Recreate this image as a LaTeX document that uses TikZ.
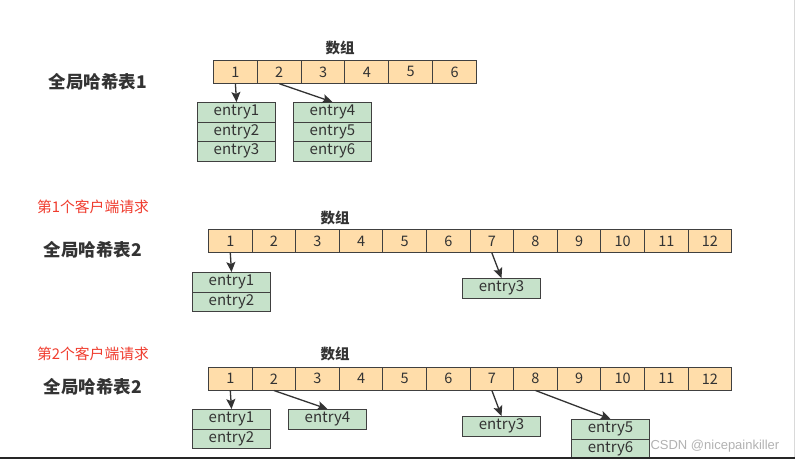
\documentclass[tikz,border=0pt]{standalone}
\usepackage{fontspec}
\setmainfont{Noto Sans CJK SC}
\newfontfamily\cjk{Noto Sans CJK SC}
\newfontfamily\wm{Liberation Sans}
\usetikzlibrary{arrows.meta}
\definecolor{cellfill}{HTML}{FFDDAA}
\definecolor{entfill}{HTML}{C6E2CA}
\definecolor{edge}{HTML}{404040}
\definecolor{reqred}{HTML}{F03C2E}
\tikzset{
  cell/.style={draw=edge, line width=1pt, fill=cellfill, inner sep=0pt, anchor=north west, font=\fontsize{14.5}{14.5}\selectfont, text=black!80},
  ent/.style={draw=edge, line width=1pt, fill=entfill, inner sep=0pt, anchor=north west, minimum width=78pt, minimum height=19.5pt, font=\fontsize{15}{15}\selectfont, text=black!80},
  ptr/.style={draw=black!80, line width=1.3pt, -{Stealth[length=10pt,width=9pt,inset=2pt]}},
  title/.style={font=\fontsize{17.5}{17.5}\selectfont\bfseries, text=black!80},
  req/.style={font=\fontsize{14.8}{14.8}\selectfont, text=reqred},
  arr/.style={font=\fontsize{14.5}{14.5}\selectfont\bfseries, text=black!80}
}
\begin{document}
\begin{tikzpicture}[x=1pt,y=-1pt]
\useasboundingbox (0,0) rectangle (795,459);
\fill[white] (0,0) rectangle (795,459);
% ---------- block 1 ----------
\node[title] (t1) at (98,82) {全局哈希表1};
\node[arr] (a1) at (340,48) {数组};
\foreach \i in {1,...,6}{
  \node[cell, minimum width=43.83pt, minimum height=22.7pt] (ra\i) at ({213+(\i-1)*43.83},60) {\i};
}
\node[ent] (ea1) at (197,102) {entry1};
\node[ent] (ea2) at (197,121.5) {entry2};
\node[ent] (ea3) at (197,141) {entry3};
\node[ent] (eb4) at (293,102) {entry4};
\node[ent] (eb5) at (293,121.5) {entry5};
\node[ent] (eb6) at (293,141) {entry6};
\draw[ptr] (ra1.south) -- (ea1.north);
\draw[ptr] (ra2.south) -- (eb4.north);
% ---------- block 2 ----------
\node[req] (q1) at (93,207) {第1个客户端请求};
\node[title] (t2) at (93,250) {全局哈希表2};
\node[arr] (a2) at (335,218) {数组};
\foreach \i in {1,...,12}{
  \node[cell, minimum width=43.6pt, minimum height=23pt] (rb\i) at ({208+(\i-1)*43.6},229) {\i};
}
\node[ent] (ec1) at (192,272) {entry1};
\node[ent] (ec2) at (192,291.5) {entry2};
\node[ent] (ec3) at (462,278) {entry3};
\draw[ptr] (rb1.south) -- (ec1.north);
\draw[ptr] (rb7.south) -- (ec3.north);
% ---------- block 3 ----------
\node[req] (q2) at (93,354) {第2个客户端请求};
\node[title] (t3) at (93,387) {全局哈希表2};
\node[arr] (a3) at (335,354) {数组};
\foreach \i in {1,...,12}{
  \node[cell, minimum width=43.6pt, minimum height=22.5pt] (rc\i) at ({208+(\i-1)*43.6},367) {\i};
}
\node[ent] (ed1) at (192,409) {entry1};
\node[ent] (ed2) at (192,428.5) {entry2};
\node[ent] (ed4) at (288,409) {entry4};
\node[ent] (ed3) at (462,416) {entry3};
\node[ent] (ed5) at (571,419) {entry5};
\node[ent] (ed6) at (571,438.5) {entry6};
\draw[ptr] (rc1.south) -- (ed1.north);
\draw[ptr] (rc2.south) -- (ed4.north);
\draw[ptr] (rc7.south) -- (ed3.north);
\draw[ptr] (rc8.south) -- (ed5.north);
% ---------- watermark and frame ----------
\node[font=\wm\fontsize{13}{13}\selectfont, text=black!30, anchor=west] (wmk) at (647,446) {CSDN @nicepainkiller};
\draw[black!15, line width=1pt] (794,0) -- (794,459);
\fill[black!85] (0,457) rectangle (795,459);
\end{tikzpicture}
\end{document}
